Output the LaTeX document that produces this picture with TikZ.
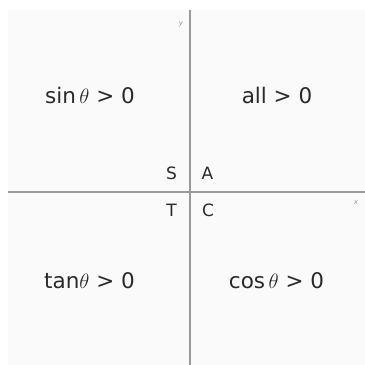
\documentclass[tikz,border=0pt]{standalone}
\usepackage{fontspec}
\setmainfont{DejaVu Sans}
\usetikzlibrary{calc}
\definecolor{panel}{HTML}{FAFAFA}
\definecolor{axis}{HTML}{9A9A9A}
\definecolor{ink}{HTML}{2A2A2A}
\tikzset{
  sign/.style={text=ink,font=\fontsize{21.5}{24}\selectfont,inner sep=0pt,anchor=base},
  quad/.style={text=ink,font=\fontsize{17}{19}\selectfont,inner sep=0pt,anchor=base},
  axlabel/.style={text=axis,font=\fontsize{7}{8}\selectfont\itshape,inner sep=0pt}
}
\begin{document}
\begin{tikzpicture}[x=1pt,y=1pt,line cap=butt]
  \useasboundingbox (0,0) rectangle (365,365);
  % ---- panel ----
  \fill[white] (0,0) rectangle (365,365);
  \fill[panel] (8,0) rectangle (365,355);
  % ---- axes ----
  \coordinate (ytop) at (190,355);
  \coordinate (ybot) at (190,0);
  \coordinate (xleft) at (8,173);
  \coordinate (xright) at (365,173);
  \draw[axis,line width=2pt] (xleft) -- (xright);
  \draw[axis,line width=2pt] (ybot) -- (ytop);
  \node[axlabel] (ylab) at (181,341) {y};
  \node[axlabel] (xlab) at (356,162) {x};
  % ---- quadrant letters ----
  \node[quad] (S) at (171.5,185) {S};
  \node[quad] (A) at (207.5,185) {A};
  \node[quad] (T) at (171.5,148) {T};
  \node[quad] (C) at (208,148) {C};
  % ---- signs ----
  \node[sign] (sin) at (90,261) {sin\,$\theta$ > 0};
  \node[sign] (all) at (277,261) {all > 0};
  \node[sign] (tan) at (89.5,76) {tan$\theta$ > 0};
  \node[sign] (cos) at (276.5,76) {cos\,$\theta$ > 0};
\end{tikzpicture}
\end{document}
